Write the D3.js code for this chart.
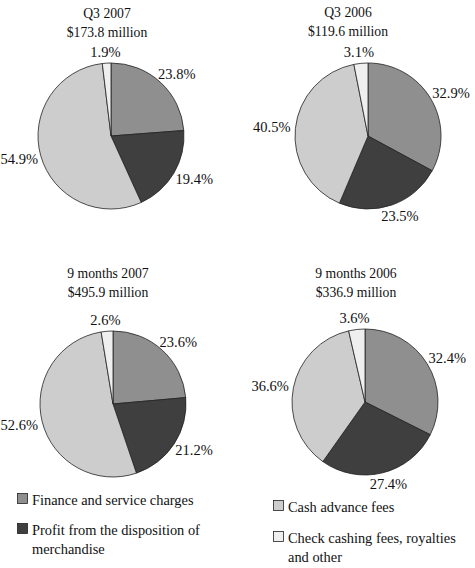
<!DOCTYPE html>
<html>
<head>
<meta charset="utf-8">
<script src="https://cdn.jsdelivr.net/npm/d3@7"></script>
<style>
  html, body { margin: 0; padding: 0; background: #fff; }
  svg { display: block; }
  text { font-family: "Liberation Serif", "Times New Roman", serif; font-size: 13.7px; fill: #111; }
  text.lbl { font-size: 14.5px; }
  text.leg { font-size: 14.4px; }
</style>
</head>
<body>
<svg id="chart" width="475" height="568"></svg>
<script>
// ---- Data ----
const categories = [
  "Finance and service charges",
  "Profit from the disposition of merchandise",
  "Cash advance fees",
  "Check cashing fees, royalties and other"
];
const chartTitles = ["Q3 2007", "Q3 2006", "9 months 2007", "9 months 2006"];
const chartTotals = ["$173.8 million", "$119.6 million", "$495.9 million", "$336.9 million"];
const q3_2007 = [23.8, 19.4, 54.9, 1.9];
const q3_2006 = [32.9, 23.5, 40.5, 3.1];
const nineMonths2007 = [23.6, 21.2, 52.6, 2.6];
const nineMonths2006 = [32.4, 27.4, 36.6, 3.6];
const seriesValues = [q3_2007, q3_2006, nineMonths2007, nineMonths2006];

// ---- Layout / style ----
const colors = ["#8f8f8f", "#3f3f3f", "#cdcdcd", "#efefef"];
const panels = [
  { cx: 111, cy: 136, titleX: 107, titleY: 18 },
  { cx: 368, cy: 136, titleX: 348, titleY: 17 },
  { cx: 113, cy: 404, titleX: 108, titleY: 278 },
  { cx: 365, cy: 402, titleX: 356, titleY: 278 }
];
const radius = 73;
const lineH = 19;

const svg = d3.select("#chart");
const color = d3.scaleOrdinal().domain(categories).range(colors);
const pie = d3.pie().sort(null).value(d => d.value);
const arc = d3.arc().innerRadius(0).outerRadius(radius);

seriesValues.forEach((vals, i) => {
  const p = panels[i];
  const g = svg.append("g");
  // titles
  g.append("text").attr("x", p.titleX).attr("y", p.titleY)
    .attr("text-anchor", "middle").text(chartTitles[i]);
  g.append("text").attr("x", p.titleX).attr("y", p.titleY + lineH)
    .attr("text-anchor", "middle").text(chartTotals[i]);

  const data = categories.map((c, k) => ({ cat: c, value: vals[k] }));
  const arcs = pie(data);
  const pg = g.append("g").attr("transform", `translate(${p.cx},${p.cy})`);
  pg.selectAll("path").data(arcs).join("path")
    .attr("d", arc)
    .attr("fill", d => color(d.data.cat))
    .attr("stroke", "#222")
    .attr("stroke-width", 0.8)
    .attr("stroke-linejoin", "round");

  // labels: placed just outside the rim along the slice's mid-angle
  const gap = 5, halfH = 6.5;
  pg.selectAll("text.lbl").data(arcs).join("text")
    .attr("class", "lbl")
    .attr("text-anchor", "middle")
    .attr("dy", "0.35em")
    .text(d => d3.format(".1f")(d.data.value) + "%")
    .each(function(d) {
      const a = (d.startAngle + d.endAngle) / 2;
      const w = this.getComputedTextLength();
      let x = (radius + gap + w / 2) * Math.sin(a);
      const y = -(radius + gap + halfH) * Math.cos(a);
      // keep label inside the page
      x = Math.max(x, -p.cx + w / 2 + 0.5);
      x = Math.min(x, 475 - p.cx - w / 2 - 0.5);
      d3.select(this).attr("x", x).attr("y", y);
    });
});

// ---- Legend ----
const legendPos = [
  { x: 17, y: 505 },
  { x: 17, y: 535 },
  { x: 273, y: 512 },
  { x: 273, y: 543 }
];
const maxW = 180;
categories.forEach((c, k) => {
  const lp = legendPos[k];
  const lg = svg.append("g");
  lg.append("rect").attr("x", lp.x + 0.5).attr("y", lp.y - 11.5)
    .attr("width", 10).attr("height", 10)
    .attr("fill", color(c)).attr("stroke", "#222").attr("stroke-width", 0.8);
  const t = lg.append("text").attr("class", "leg").attr("x", lp.x + 15).attr("y", lp.y);
  const words = c.split(" ");
  let line = [];
  let tspan = t.append("tspan").attr("x", lp.x + 15).attr("y", lp.y);
  let lineNo = 0;
  words.forEach(w => {
    line.push(w);
    tspan.text(line.join(" "));
    if (tspan.node().getComputedTextLength() > maxW && line.length > 1) {
      line.pop();
      tspan.text(line.join(" "));
      line = [w];
      lineNo++;
      tspan = t.append("tspan").attr("x", lp.x + 15).attr("y", lp.y + lineNo * lineH).text(w);
    }
  });
});
</script>
</body>
</html>
